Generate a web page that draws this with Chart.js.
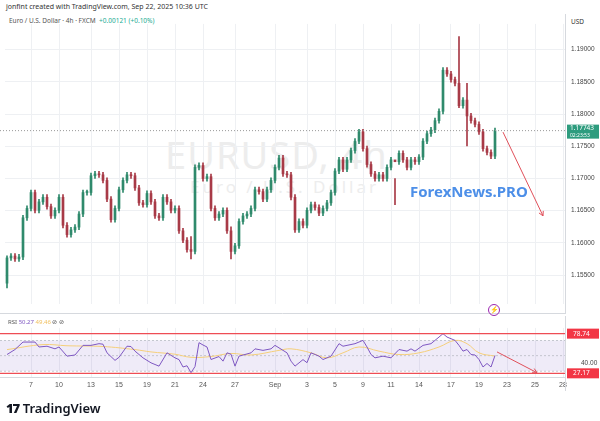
<!DOCTYPE html>
<html><head><meta charset="utf-8">
<script src="https://cdn.jsdelivr.net/npm/chart.js@4.4.1/dist/chart.umd.min.js"></script>
<style>
  html,body{margin:0;padding:0;background:#fff;width:600px;height:421px;overflow:hidden;font-family:'Noto Sans',sans-serif}
  .abs{position:absolute;white-space:nowrap}
  canvas{position:absolute;left:0}
</style></head>
<body>
<div class="abs" style="left:6px;top:2px;font-size:7px;color:#333">jonfint created with TradingView.com, Sep 22, 2025 10:36 UTC</div>
<div class="abs" style="left:9px;top:16px;font-size:6.5px;color:#555">Euro / U.S. Dollar · 4h · FXCM &nbsp;<span style="color:#22ab94">+0.00121 (+0.10%)</span></div>
<div class="abs" style="left:571px;top:17px;font-size:6.5px;color:#333">USD</div>
<div class="abs" style="left:165px;top:128px;font-size:38px;color:#ededed;letter-spacing:1px">EURUSD, 4h</div>
<div class="abs" style="left:190px;top:175px;font-size:17px;color:#ededed;letter-spacing:3px">Euro / U.S. Dollar</div>
<canvas id="main" width="600" height="300" style="top:14px;width:600px;height:300px"></canvas>
<canvas id="rsi" width="600" height="75" style="top:316px;width:600px;height:75px"></canvas>
<div class="abs" style="left:410px;top:181px;font-size:15px;font-weight:bold;color:#4d8fe8">ForexNews.PRO</div>
<div class="abs" style="left:488px;top:304px;width:10px;height:10px;border:1px solid #9c27b0;border-radius:50%;font-size:7px;line-height:10px;text-align:center;color:#9c27b0">⚡</div>
<div class="abs" style="left:8px;top:318px;font-size:6px;color:#555">RSI <span style="color:#7e57c2">50.27</span> <span style="color:#f0c060">49.46</span> ⊘ ⊘</div>
<div class="abs" style="left:6px;top:399px;font-size:13px;font-weight:bold;color:#131722">
  <span style="font-weight:900;letter-spacing:-1px">17</span> <span style="font-weight:600">TradingView</span></div>
<script>
// ---- data ----
const closes = [
  1.15767,1.15796,1.15752,1.15781,1.16390,1.16535,1.16782,1.16506,1.16637,1.16709,
  1.16564,1.16419,1.16506,1.16709,1.16274,1.16129,1.16202,1.16245,1.16448,1.16782,
  1.16782,1.17043,1.17072,1.17057,1.16970,1.16680,1.16361,1.16535,1.16825,1.16970,
  1.17057,1.17043,1.16854,1.16622,1.16593,1.16767,1.16637,1.16419,1.16390,1.16709,
  1.16637,1.16506,1.16535,1.16187,1.16042,1.15897,1.15868,1.17173,1.17202,1.16999,
  1.17028,1.16535,1.16390,1.16448,1.16506,1.16187,1.15868,1.15955,1.16332,1.16419,
  1.16448,1.16535,1.16825,1.16796,1.16680,1.16825,1.16970,1.17173,1.17318,1.17072,
  1.17057,1.16709,1.16202,1.16332,1.16274,1.16506,1.16593,1.16550,1.16463,1.16535,
  1.16622,1.16782,1.17115,1.17289,1.17144,1.17289,1.17434,1.17579,1.17724,1.17463,
  1.17217,1.17072,1.16999,1.17057,1.16999,1.17173,1.17289,1.17260,1.17391,1.17289,
  1.17173,1.17289,1.17260,1.17333,1.17579,1.17695,1.17753,1.17898,1.18043,1.18681,
  1.18623,1.18536,1.18478,1.18130,1.18217,1.17971,1.17898,1.17840,1.17724,1.17463,
  1.17405,1.17347,1.17743
];
const firstOpen = 1.15375;
const wickIdx  = [0,       46,      56,      97,      113,     115];
const wickHigh = [1.15800, 1.16100, 1.16250, 1.17000, 1.19203, 1.18478];
const wickLow  = [1.15300, 1.15750, 1.15750, 1.16593, 1.18100, 1.17506];

const rsiIdx = [0,2,4,7,8,10,12,13,15,17,19,21,23,24,25,27,28,30,31,32,34,36,38,40,42,43,44,45,46,47,48,49,50,51,53,54,55,56,57,58,61,62,64,66,67,69,70,71,72,74,75,76,78,79,81,83,84,87,89,90,91,92,94,96,98,100,101,102,104,106,108,109,110,112,113,114,115,116,117,118,119,120,121,122];
const rsiVals = [51.6,58.1,67.8,67.8,61.4,62.4,59,61.4,49.5,51,63.5,63.5,65.7,65,53.8,44,48,62.4,62,56,47.3,40.8,36.5,53.8,47.3,45,35.4,37,28,36,67,64,61.4,45.1,49,43,53.8,52,36.5,49.5,53.8,59,57,59,63.5,57,53.8,43,36.5,45,41,53.8,49.5,45.1,49.5,65.7,62.4,65.7,70,61.4,51.6,47.3,49.5,47.3,58.1,56,59,56,63.5,65.7,74.3,78.7,74.3,70,63.5,56,58.1,51.6,51,45.1,35.4,40,35.4,50.3];
const maIdx  = [0,9,15,24,32,36,42,46,51,56,61,68,71,76,80,84,88,93,98,103,108,112,115,118,122];
const maVals = [58,64.5,63,62,58,55,52,48,49,53,51,57,59,53.8,47.3,53.8,61.4,56,51.6,53.8,61.4,70,65.7,53.8,49.5];

const tickIdx  = [6,13,21,28,35,42,49,57,67,75,82,89,96,103,111,118,125,132,139];
const tickText = ['7','10','13','15','19','21','24','27','Sep','3','5','9','11','14','17','19','23','25','28'];
const priceTicks = [1.155,1.16,1.165,1.17,1.175,1.18,1.185,1.19];
const lastPrice = 1.17743;
const rsiLevels = [78.74, 27.17];
const SLOTS = 140;

// ---- build candles ----
const labels = Array.from({length: SLOTS}, (_, i) => String(i));
const opens = closes.map((c, i) => i === 0 ? firstOpen : closes[i - 1]);
const UP = '#2f8a6c', DN = '#a83a47';
const bodies = closes.map((c, i) => [opens[i], c]);
const wicks = closes.map((c, i) => {
  const k = wickIdx.indexOf(i);
  const hi = Math.max(opens[i], c), lo = Math.min(opens[i], c);
  return k >= 0 ? [wickLow[k], wickHigh[k]] : [lo - 0.0004, hi + 0.0004];
});
const colors = closes.map((c, i) => c >= opens[i] ? UP : DN);

const tickLabel = i => { const k = tickIdx.indexOf(i); return k >= 0 ? tickText[k] : ''; };
const GRID = '#eef0f3';
const xCfg = (show) => ({
  type: 'category', offset: true,
  grid: { color: GRID, drawTicks: false, offset: false },
  border: { display: false },
  afterBuildTicks: ax => { ax.ticks = tickIdx.map(v => ({ value: v })); },
  ticks: { display: show, autoSkip: false, maxRotation: 0, color: '#555', font: { size: 7 }, padding: 4,
    callback: v => tickLabel(v) },
  afterFit: ax => { ax.height = show ? 14 : 0; },
});

// arrow + annotation plugin
function arrow(ctx, x1, y1, x2, y2, col) {
  ctx.save(); ctx.strokeStyle = col; ctx.lineWidth = 1;
  ctx.beginPath(); ctx.moveTo(x1, y1); ctx.lineTo(x2, y2); ctx.stroke();
  const a = Math.atan2(y2 - y1, x2 - x1), L = 5;
  ctx.beginPath();
  ctx.moveTo(x2 - L * Math.cos(a - 0.5), y2 - L * Math.sin(a - 0.5));
  ctx.lineTo(x2, y2);
  ctx.lineTo(x2 - L * Math.cos(a + 0.5), y2 - L * Math.sin(a + 0.5));
  ctx.stroke(); ctx.restore();
}
const mainDeco = {
  id: 'mainDeco',
  afterDatasetsDraw(chart) {
    const { ctx, chartArea: a, scales: { x, y } } = chart;
    const yp = y.getPixelForValue(lastPrice);
    ctx.save();
    ctx.setLineDash([1, 2]); ctx.strokeStyle = '#999'; ctx.lineWidth = 1;
    ctx.beginPath(); ctx.moveTo(a.left - 5, yp); ctx.lineTo(a.right, yp); ctx.stroke();
    ctx.setLineDash([]);
    arrow(ctx, x.getPixelForValue(124), y.getPixelForValue(1.1772), x.getPixelForValue(134), y.getPixelForValue(1.1642), '#e0505a');
    ctx.strokeStyle = '#d6d9de'; ctx.beginPath(); ctx.moveTo(a.right + 0.5, 0); ctx.lineTo(a.right + 0.5, chart.height); ctx.stroke();
    ctx.beginPath(); ctx.moveTo(0, chart.height - 0.5); ctx.lineTo(a.right, chart.height - 0.5); ctx.stroke();
    ctx.fillStyle = '#2e9c7e';
    ctx.fillRect(a.right + 2, yp - 6, 32, 14);
    ctx.fillStyle = '#fff'; ctx.font = "6.5px 'Noto Sans'"; ctx.textBaseline = 'middle';
    ctx.fillText(lastPrice.toFixed(5), a.right + 5, yp - 2);
    ctx.font = "5px 'Noto Sans'"; ctx.fillText('02:23:53', a.right + 5, yp + 4.5);
    ctx.restore();
  }
};
const rsiDeco = {
  id: 'rsiDeco',
  beforeDatasetsDraw(chart) {
    const { ctx, chartArea: a, scales: { x, y } } = chart;
    ctx.save();
    ctx.fillStyle = 'rgba(126,87,194,0.12)';
    const y70 = y.getPixelForValue(70), y30 = y.getPixelForValue(30);
    ctx.fillRect(a.left - 5, y70, a.right - a.left + 5, y30 - y70);
    ctx.setLineDash([2, 2]); ctx.strokeStyle = '#b0b4bc'; ctx.lineWidth = 0.7;
    [70, 50, 30].forEach(v => { const p = y.getPixelForValue(v); ctx.beginPath(); ctx.moveTo(a.left - 5, p); ctx.lineTo(a.right, p); ctx.stroke(); });
    ctx.restore();
  },
  afterDatasetsDraw(chart) {
    const { ctx, chartArea: a, scales: { x, y } } = chart;
    ctx.save();
    rsiLevels.forEach(v => {
      const p = y.getPixelForValue(v);
      ctx.strokeStyle = '#ee4d55'; ctx.lineWidth = 1.3;
      ctx.beginPath(); ctx.moveTo(a.left - 5, p); ctx.lineTo(a.right, p); ctx.stroke();
      ctx.fillStyle = '#f23645'; ctx.fillRect(a.right + 2, p - 5, 32, 10);
      ctx.fillStyle = '#fff'; ctx.font = "6.5px 'Noto Sans'"; ctx.textBaseline = 'middle';
      ctx.fillText(v.toFixed(2), a.right + 8, p);
    });
    arrow(ctx, x.getPixelForValue(122.5), y.getPixelForValue(55), x.getPixelForValue(132.5), y.getPixelForValue(28), '#e0505a');
    ctx.strokeStyle = '#d6d9de'; ctx.lineWidth = 1;
    ctx.beginPath(); ctx.moveTo(a.right + 0.5, 0); ctx.lineTo(a.right + 0.5, chart.height); ctx.stroke();
    ctx.beginPath(); ctx.moveTo(0, a.bottom + 0.5); ctx.lineTo(a.right, a.bottom + 0.5); ctx.stroke();
    ctx.restore();
  }
};

new Chart(document.getElementById('main'), {
  type: 'bar',
  data: { labels, datasets: [
    { data: wicks, backgroundColor: colors, barThickness: 1, grouped: false, order: 2 },
    { data: bodies, backgroundColor: colors, barThickness: 2, grouped: false, order: 1, minBarLength: 1 },
  ] },
  options: {
    responsive: false, animation: false, devicePixelRatio: 1,
    layout: { padding: { left: 5, top: 0, right: 0, bottom: 0 } },
    plugins: { legend: { display: false }, tooltip: { enabled: false } },
    scales: {
      x: xCfg(false),
      y: { position: 'right', min: 1.1505, max: 1.1940,
        grid: { color: GRID, drawTicks: false }, border: { display: false },
        afterBuildTicks: ax => { ax.ticks = priceTicks.map(v => ({ value: v })); },
        afterFit: ax => { ax.width = 35; },
        ticks: { color: '#444', font: { size: 6.5 }, padding: 6, callback: v => v.toFixed(5) } },
    },
  },
  plugins: [mainDeco],
});

new Chart(document.getElementById('rsi'), {
  type: 'line',
  data: { labels, datasets: [
    { data: rsiIdx.map((v, k) => ({ x: String(v), y: rsiVals[k] })), borderColor: '#7e57c2', borderWidth: 1, pointRadius: 0, tension: 0 },
    { data: maIdx.map((v, k) => ({ x: String(v), y: maVals[k] })), borderColor: '#f5cf7a', borderWidth: 1, pointRadius: 0, tension: 0.4 },
  ] },
  options: {
    responsive: false, animation: false, devicePixelRatio: 1,
    layout: { padding: { left: 5, top: 2, right: 0, bottom: 0 } },
    plugins: { legend: { display: false }, tooltip: { enabled: false } },
    scales: {
      x: xCfg(true),
      y: { position: 'right', min: 22.4, max: 86.2,
        grid: { display: false }, border: { display: false },
        afterBuildTicks: ax => { ax.ticks = [{ value: 40 }]; },
        afterFit: ax => { ax.width = 35; },
        ticks: { color: '#444', font: { size: 6.5 }, padding: 8, callback: v => v.toFixed(2) } },
    },
  },
  plugins: [rsiDeco],
});
</script>
</body></html>
